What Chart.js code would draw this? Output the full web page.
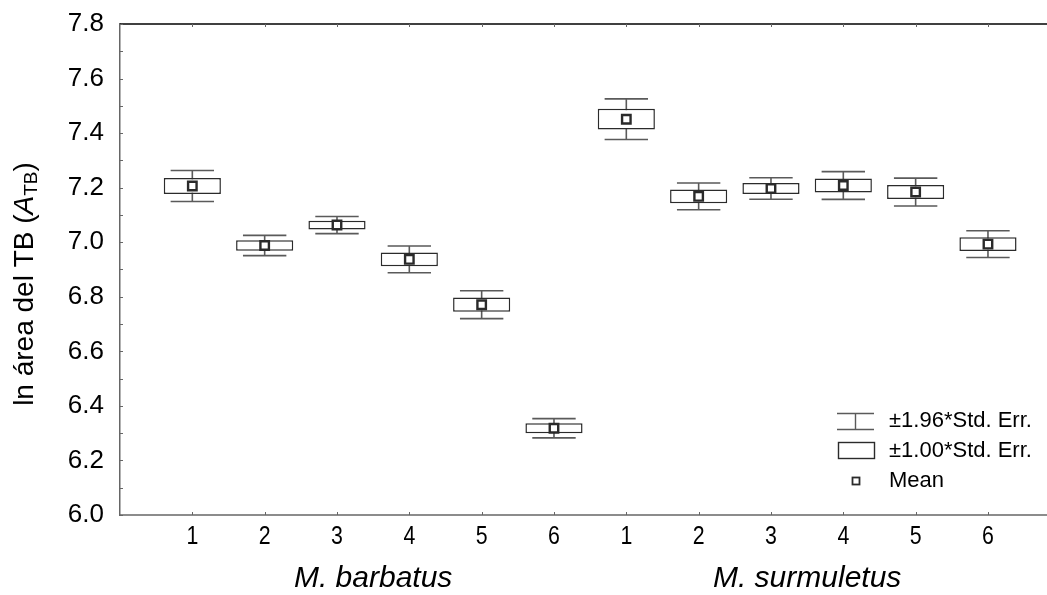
<!DOCTYPE html>
<html>
<head>
<meta charset="utf-8">
<script src="https://cdn.jsdelivr.net/npm/chart.js@4/dist/chart.umd.min.js"></script>
<style>
  html, body { margin: 0; padding: 0; background: #fff; }
</style>
</head>
<body>
<canvas id="chart" width="1047" height="595"></canvas>
<script>
// data
var groups = ['M. barbatus', 'M. surmuletus'];
var sites = ['1', '2', '3', '4', '5', '6', '1', '2', '3', '4', '5', '6'];
var means = [7.206, 6.988, 7.063, 6.937, 6.771, 6.318, 7.451, 7.168, 7.197, 7.208, 7.184, 6.993];
var stdErr = [0.029, 0.019, 0.016, 0.025, 0.026, 0.018, 0.038, 0.025, 0.020, 0.026, 0.026, 0.025];
var yTicks = [6.0, 6.2, 6.4, 6.6, 6.8, 7.0, 7.2, 7.4, 7.6, 7.8];
var legendLabels = ['\u00b11.96*Std. Err.', '\u00b11.00*Std. Err.', 'Mean'];

var colors = {
    box: '#2b2b2b',
    whisker: '#5a5a5a',
    axis: '#666666',
    text: '#000000'
};

var boxData = means.map(function(m, i) {
    return { x: i + 1, y: [m - stdErr[i], m + stdErr[i]] };
});
var meanData = means.map(function(m, i) {
    return { x: i + 1, y: m };
});

var extras = {
    id: 'extras',
    beforeDatasetsDraw: function(chart) {
        var ctx = chart.ctx, xs = chart.scales.x, ys = chart.scales.y;
        ctx.save();
        ctx.strokeStyle = colors.whisker;
        ctx.lineWidth = 1.6;
        means.forEach(function(m, i) {
            var x = xs.getPixelForValue(i + 1);
            var half = xs.getPixelForValue(i + 1.3) - x;
            var top = ys.getPixelForValue(m + 1.96 * stdErr[i]);
            var bot = ys.getPixelForValue(m - 1.96 * stdErr[i]);
            ctx.beginPath();
            ctx.moveTo(x, top); ctx.lineTo(x, bot);
            ctx.moveTo(x - half, top); ctx.lineTo(x + half, top);
            ctx.moveTo(x - half, bot); ctx.lineTo(x + half, bot);
            ctx.stroke();
        });
        ctx.restore();
    },
    afterDraw: function(chart) {
        var ctx = chart.ctx, xs = chart.scales.x, ys = chart.scales.y, a = chart.chartArea;
        var w = chart.width;
        ctx.save();

        // frame: top line black, bottom axis grey, both run to the edge
        ctx.strokeStyle = '#000';
        ctx.lineWidth = 1.5;
        ctx.beginPath();
        ctx.moveTo(a.left, a.top); ctx.lineTo(w, a.top);
        ctx.stroke();
        ctx.strokeStyle = colors.axis;
        ctx.beginPath();
        ctx.moveTo(a.left - 0.75, a.bottom); ctx.lineTo(w, a.bottom);
        ctx.stroke();

        // inner ticks
        ctx.lineWidth = 1;
        ctx.beginPath();
        for (var v = 60; v <= 78; v++) {
            var py = Math.round(ys.getPixelForValue(v / 10)) + 0.5;
            ctx.moveTo(a.left, py); ctx.lineTo(a.left + 3, py);
        }
        sites.forEach(function(s, i) {
            var px = Math.round(xs.getPixelForValue(i + 1)) + 0.5;
            ctx.moveTo(px, a.bottom); ctx.lineTo(px, a.bottom - 3);
            ctx.moveTo(px, a.top); ctx.lineTo(px, a.top + 3);
        });
        ctx.stroke();

        // site labels (narrow face)
        ctx.fillStyle = colors.text;
        ctx.textAlign = 'center';
        ctx.textBaseline = 'middle';
        ctx.font = '26px "Liberation Sans", Arial, sans-serif';
        sites.forEach(function(s, i) {
            var px = xs.getPixelForValue(i + 1);
            ctx.setTransform(0.82, 0, 0, 1, px, 537);
            ctx.fillText(s, 0, 0);
        });

        // group labels
        ctx.font = 'italic 30px "Liberation Sans", Arial, sans-serif';
        groups.forEach(function(g, k) {
            var px = xs.getPixelForValue(k * 6 + 3.5);
            ctx.setTransform(1.0, 0, 0, 1, px, 579);
            ctx.fillText(g, 0, 0);
        });
        ctx.setTransform(1, 0, 0, 1, 0, 0);

        // y axis title with subscript
        var base = '28px "Liberation Sans", Arial, sans-serif';
        var ital = 'italic 28px "Liberation Sans", Arial, sans-serif';
        var sub = '19px "Liberation Sans", Arial, sans-serif';
        var parts = [
            { t: 'ln \u00e1rea del TB (', f: base, dy: 0 },
            { t: 'A', f: ital, dy: 0 },
            { t: 'TB', f: sub, dy: 7 },
            { t: ')', f: base, dy: 0 }
        ];
        var total = 0;
        parts.forEach(function(p) { ctx.font = p.f; p.w = ctx.measureText(p.t).width; total += p.w; });
        ctx.translate(25, 284);
        ctx.rotate(-Math.PI / 2);
        ctx.textAlign = 'left';
        var cx = -total / 2;
        parts.forEach(function(p) {
            ctx.font = p.f;
            ctx.fillText(p.t, cx, p.dy);
            cx += p.w;
        });
        ctx.setTransform(1, 0, 0, 1, 0, 0);

        // legend
        ctx.strokeStyle = colors.whisker;
        ctx.lineWidth = 1.4;
        ctx.beginPath();
        ctx.moveTo(837, 413.5); ctx.lineTo(874, 413.5);
        ctx.moveTo(837, 429.5); ctx.lineTo(874, 429.5);
        ctx.moveTo(855.5, 413.5); ctx.lineTo(855.5, 429.5);
        ctx.stroke();
        ctx.strokeStyle = colors.box;
        ctx.strokeRect(838.5, 442.5, 36, 16);
        ctx.lineWidth = 1.8;
        ctx.strokeRect(852.5, 477.5, 7, 7);
        ctx.fillStyle = colors.text;
        ctx.font = '22px "Liberation Sans", Arial, sans-serif';
        ctx.textAlign = 'left';
        ctx.textBaseline = 'middle';
        [421, 451, 481].forEach(function(ty, k) {
            ctx.fillText(legendLabels[k], 889, ty);
        });

        ctx.restore();
    }
};

var config = {
    type: 'bar',
    data: {
        datasets: [{
            type: 'scatter',
            label: 'Mean',
            data: meanData,
            pointStyle: 'rect',
            pointRadius: 6,
            pointBorderWidth: 2.4,
            pointBorderColor: '#2a2a2a',
            pointBackgroundColor: '#fff',
            order: 0
        }, {
            type: 'bar',
            label: '\u00b11.00*Std. Err.',
            data: boxData,
            backgroundColor: '#fff',
            borderColor: colors.box,
            borderWidth: 1.5,
            borderSkipped: false,
            barPercentage: 0.79,
            categoryPercentage: 1,
            order: 1
        }]
    },
    options: {
        responsive: false,
        animation: false,
        layout: { padding: { top: 24, right: 0, bottom: 0, left: 0 } },
        plugins: {
            legend: { display: false },
            tooltip: { enabled: false }
        },
        scales: {
            x: {
                type: 'linear',
                min: 0,
                max: 12.7,
                offset: false,
                grid: { display: false, drawTicks: false },
                border: { display: false },
                afterBuildTicks: function(scale) {
                    scale.ticks = sites.map(function(s, i) { return { value: i + 1 }; });
                },
                afterFit: function(scale) { scale.height = 80; },
                ticks: { display: false }
            },
            y: {
                min: 6.0,
                max: 7.8,
                grid: { display: false, drawTicks: false },
                border: { display: true, color: colors.axis, width: 1.5 },
                afterBuildTicks: function(scale) {
                    scale.ticks = yTicks.map(function(t) { return { value: t }; });
                },
                afterFit: function(scale) {
                    scale.width = 120;
                    scale.paddingTop = 0;
                    scale.paddingBottom = 0;
                },
                ticks: {
                    padding: 16,
                    color: colors.text,
                    font: { family: '"Liberation Sans", Arial', size: 26 },
                    callback: function(v) { return v.toFixed(1); }
                }
            }
        }
    },
    plugins: [extras]
};

window.onload = function() {
    var ctx = document.getElementById('chart').getContext('2d');
    window.boxChart = new Chart(ctx, config);
};
</script>
</body>
</html>
